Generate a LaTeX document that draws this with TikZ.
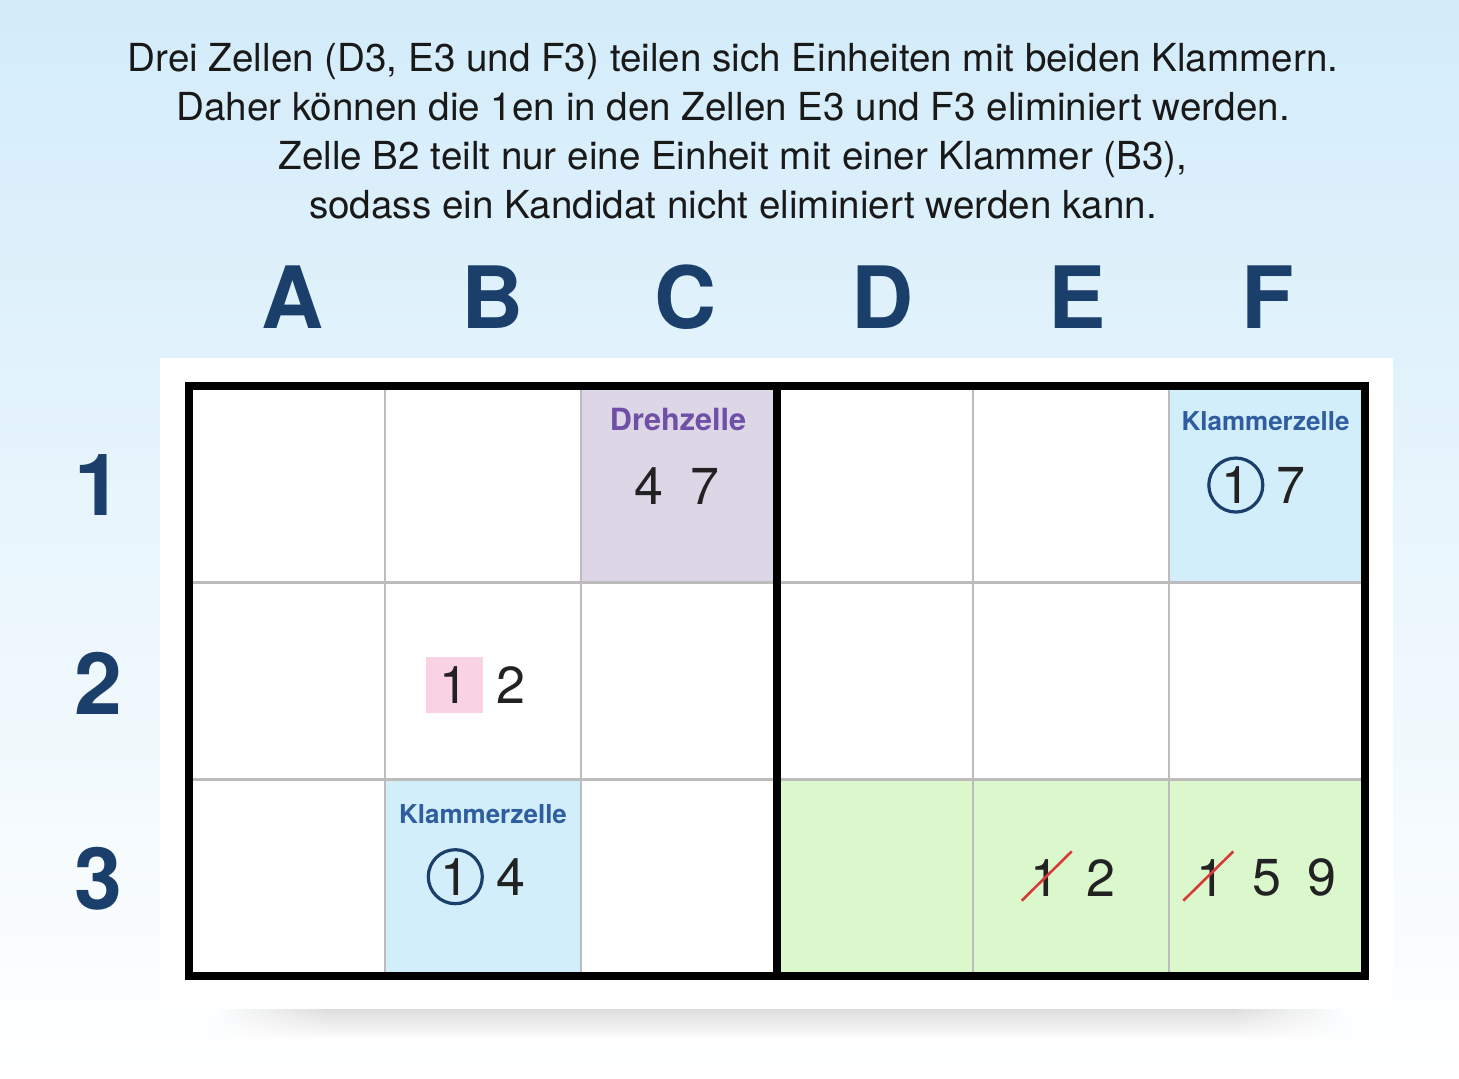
\documentclass[tikz,border=0pt]{standalone}
\usepackage{fontspec}
\setmainfont{TeX Gyre Heros}
\usetikzlibrary{positioning,calc,fadings}

\definecolor{bgtop}{RGB}{211,236,250}
\definecolor{navy}{RGB}{27,63,107}
\definecolor{digitcol}{RGB}{34,34,34}
\definecolor{gridgray}{RGB}{188,188,188}
\definecolor{drehfill}{RGB}{220,214,230}
\definecolor{drehtext}{RGB}{111,80,166}
\definecolor{klammerfill}{RGB}{211,238,251}
\definecolor{klammertext}{RGB}{47,93,159}
\definecolor{greenfill}{RGB}{219,248,204}
\definecolor{pinkfill}{RGB}{249,211,228}
\definecolor{strikered}{RGB}{214,58,58}

\begin{document}
\begin{tikzpicture}[x=0.5pt, y=-0.5pt, node distance=13.3pt,
  cell/.style={minimum width=98pt, minimum height=98.33pt, inner sep=0pt, outer sep=0pt},
  gridline/.style={draw=gridgray, line width=1.3pt},
  frame/.style={draw=black, line width=3.75pt},
  shadow/.style={top color=black!15, bottom color=white},
  title/.style={align=center, font=\fontsize{19.3}{24.5}\selectfont, text=black!90, inner sep=0pt},
  head/.style={font=\bfseries\fontsize{43}{43}\selectfont, text=navy, inner sep=0pt},
  tag/.style={font=\bfseries\fontsize{13}{13}\selectfont, text=klammertext, inner sep=0pt},
  digit/.style={font=\fontsize{26}{26}\selectfont, text=digitcol, inner sep=0pt, outer sep=0pt},
  ring/.style={digit, circle, draw=navy, line width=1.6pt, minimum size=27pt},
  marked/.style={digit, fill=pinkfill, minimum width=28.3pt, minimum height=28.3pt},
  strike/.style={draw=strikered, line width=1.3pt}]

  \useasboundingbox (0,0) rectangle (1459,1078);
  \shade[top color=bgtop, bottom color=white] (0,0) rectangle (1459,1078);
  \shade[shadow] (330,1005) rectangle (1230,1040);
  \shade[shadow, path fading=west] (215,1005) rectangle (330,1040);
  \shade[shadow, path fading=east] (1230,1005) rectangle (1345,1040);
  \fill[white] (160,358) rectangle (1393,1009);

  \node[title, anchor=north] (note) at (733,43)
    {Drei Zellen (D3, E3 und F3) teilen sich Einheiten mit beiden Klammern.\\
     Daher können die 1en in den Zellen E3 und F3 eliminiert werden.\\
     Zelle B2 teilt nur eine Einheit mit einer Klammer (B3),\\
     sodass ein Kandidat nicht eliminiert werden kann.};

  \foreach \c/\x in {A/292.5,B/492.5,C/685.5,D/883,E/1077,F/1267.5}
    \node[head] (head\c) at (\x,297) {\c};
  \foreach \r/\y in {1/485,2/683,3/879}
    \node[head] (row\r) at (98.5,\y) {\r};

  \foreach \c [count=\i from 0] in {A,B,C,D,E,F}
    \foreach \r in {1,2,3}
      \node[cell] (\c\r) at (287+196*\i, 287.67+196.67*\r) {};

  \fill[drehfill] (C1.north west) rectangle (C1.south east);
  \fill[klammerfill] (F1.north west) rectangle (F1.south east);
  \fill[klammerfill] (B3.north west) rectangle (B3.south east);
  \fill[greenfill] (D3.north west) rectangle (F3.south east);

  \foreach \c in {A,B,C,D,E,F}
    \foreach \r in {1,2,3}
      \draw[gridline] (\c\r.north west) rectangle (\c\r.south east);

  \draw[frame] (A1.north west) rectangle (F3.south east);
  \draw[frame] (C1.north east) -- (C3.south east);

  \node[tag, text=drehtext, font=\bfseries\fontsize{15.3}{15.3}\selectfont] (C1tag) at ([xshift=-0.5pt, yshift=32.6pt]C1) {Drehzelle};
  \node[tag] (F1tag) at ([xshift=-0.75pt, yshift=31.7pt]F1) {Klammerzelle};
  \node[tag] (B3tag) at ([yshift=31.9pt]B3) {Klammerzelle};

  \node[digit] (C1a) at ([xshift=-15pt, yshift=-0.85pt]C1) {4};
  \node[digit, right=of C1a] (C1b) {7};

  \node[ring] (F1a) at ([xshift=-15.6pt, yshift=-0.35pt]F1) {1};
  \node[digit, right=6.9pt of F1a] (F1b) {7};

  \node[marked] (B2a) at ([xshift=-14.35pt, yshift=-2pt]B2) {1};
  \node[digit, right=7pt of B2a] (B2b) {2};

  \node[ring] (B3a) at ([xshift=-13.85pt, yshift=0.5pt]B3) {1};
  \node[digit, right=6.9pt of B3a] (B3b) {4};

  \node[digit] (E3a) at ([xshift=-13pt]E3) {1};
  \node[digit, right=of E3a] (E3b) {2};
  \draw[strike] ([shift={(-23.3,23)}]E3a.center) -- ([shift={(26.7,-26.3)}]E3a.center);

  \node[digit] (F3a) at ([xshift=-28pt]F3) {1};
  \node[digit, right=of F3a] (F3b) {5};
  \node[digit, right=of F3b] (F3c) {9};
  \draw[strike] ([shift={(-27.7,23)}]F3a.center) -- ([shift={(22.3,-26.3)}]F3a.center);
\end{tikzpicture}
\end{document}
